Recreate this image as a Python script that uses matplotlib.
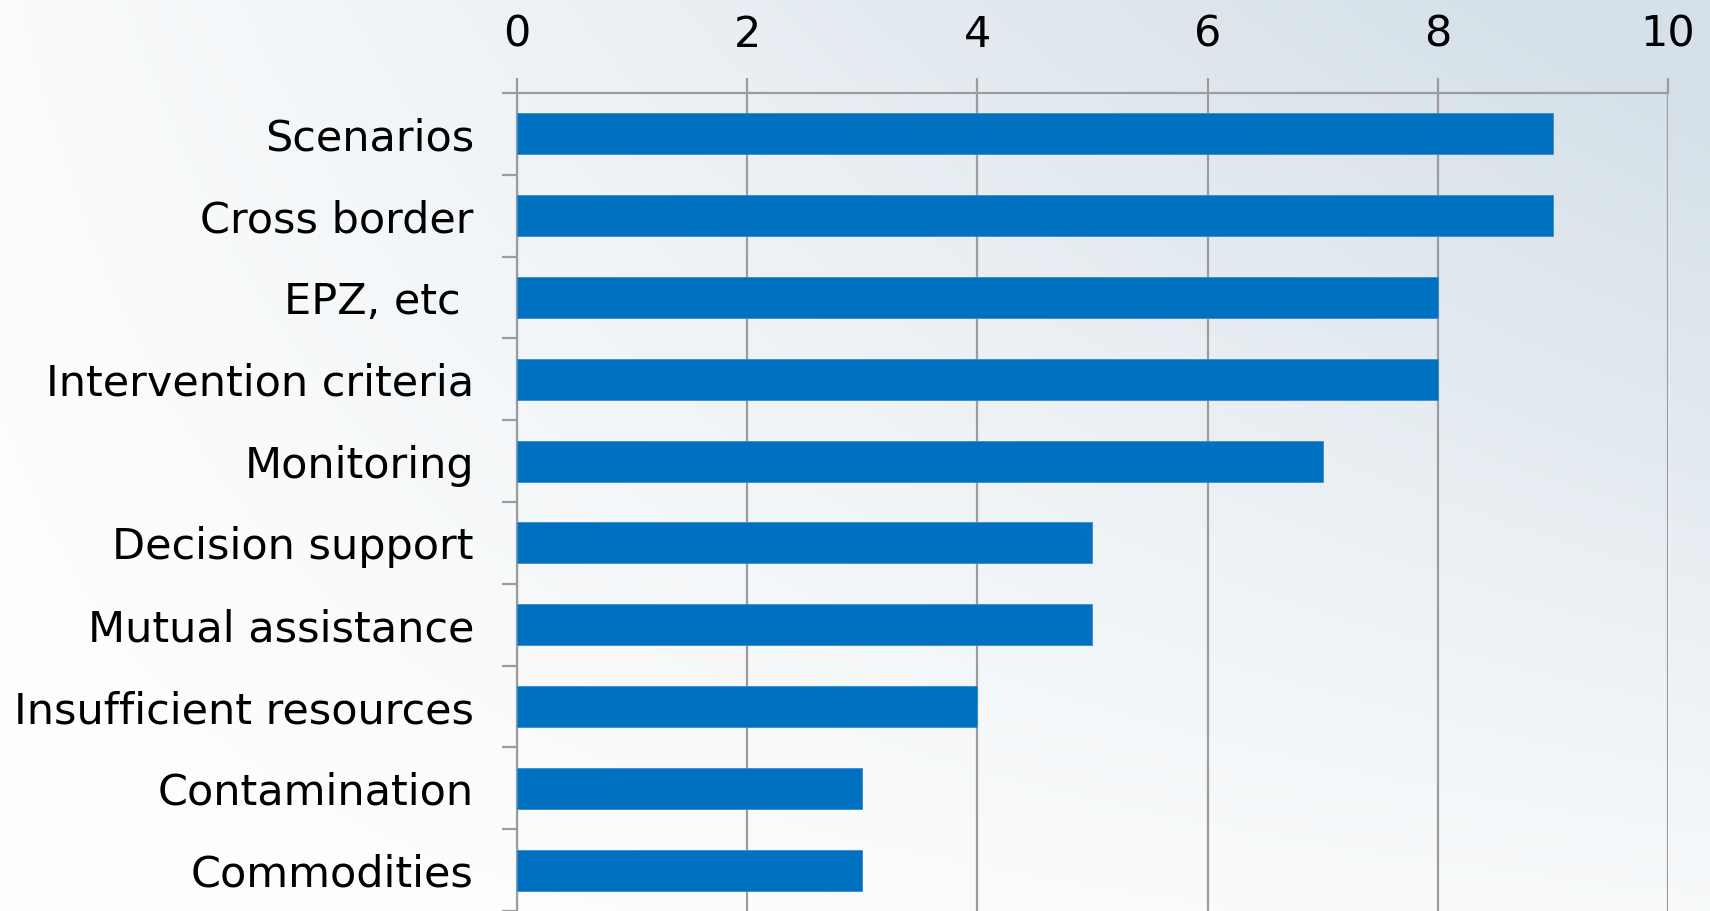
import numpy as np
import matplotlib
matplotlib.use("Agg")
import matplotlib.pyplot as plt
from matplotlib.ticker import FixedLocator

categories = ["Scenarios", "Cross border", "EPZ, etc ", "Intervention criteria",
              "Monitoring", "Decision support", "Mutual assistance",
              "Insufficient resources", "Contamination", "Commodities"]
values = [9, 9, 8, 8, 7, 5, 5, 4, 3, 3]
xticks = [0, 2, 4, 6, 8, 10]

plt.rcParams['font.family'] = ['DejaVu Sans']

fig = plt.figure(figsize=(17.1, 9.11), dpi=100)

# diagonal background gradient: white bottom-left -> grey-blue top-right
bg = fig.add_axes([0, 0, 1, 1], zorder=-10)
gx, gy = np.meshgrid(np.linspace(0, 1, 400), np.linspace(1, 0, 200))
t = np.clip(gx * (0.18 + 0.82 * gy) + 0.12 * gy, 0, 1)
c0 = np.array([1.0, 1.0, 1.0])
c1 = np.array([0xd5, 0xe0, 0xe8]) / 255.0
img = c0[None, None, :] * (1 - t[..., None]) + c1[None, None, :] * t[..., None]
bg.imshow(img, aspect='auto', extent=[0, 1, 0, 1], interpolation='bilinear')
bg.axis('off')

ax = fig.add_axes([0.3023, 0.0, 0.9754 - 0.3023, 0.8979])
ax.patch.set_alpha(0)

y = np.arange(len(categories))
ax.barh(y, values, height=0.5, color='#0070C0', edgecolor='#3a8ad0', linewidth=0.6, zorder=3)

ax.set_xlim(0, 10)
ax.set_ylim(len(categories) - 0.5, -0.5)
ax.xaxis.tick_top()
ax.set_xticks(xticks)
ax.set_xticklabels([str(v) for v in xticks])
ax.set_yticks(y)
ax.set_yticklabels(categories)
ax.yaxis.set_minor_locator(FixedLocator(np.arange(-0.5, len(categories), 1.0)))

gc = '#9c9c9c'
ax.grid(axis='x', color=gc, linewidth=1.6, zorder=0)
ax.tick_params(axis='x', which='major', direction='out', length=11, width=1.6,
               color=gc, pad=16, labelsize=31)
ax.tick_params(axis='y', which='major', length=0, pad=31, labelsize=31)
ax.tick_params(axis='y', which='minor', direction='out', length=11, width=1.6, color=gc)

for s in ['right', 'bottom']:
    ax.spines[s].set_visible(False)
for s in ['top', 'left']:
    ax.spines[s].set_color(gc)
    ax.spines[s].set_linewidth(1.6)

fig.savefig("out.png", dpi=100)
